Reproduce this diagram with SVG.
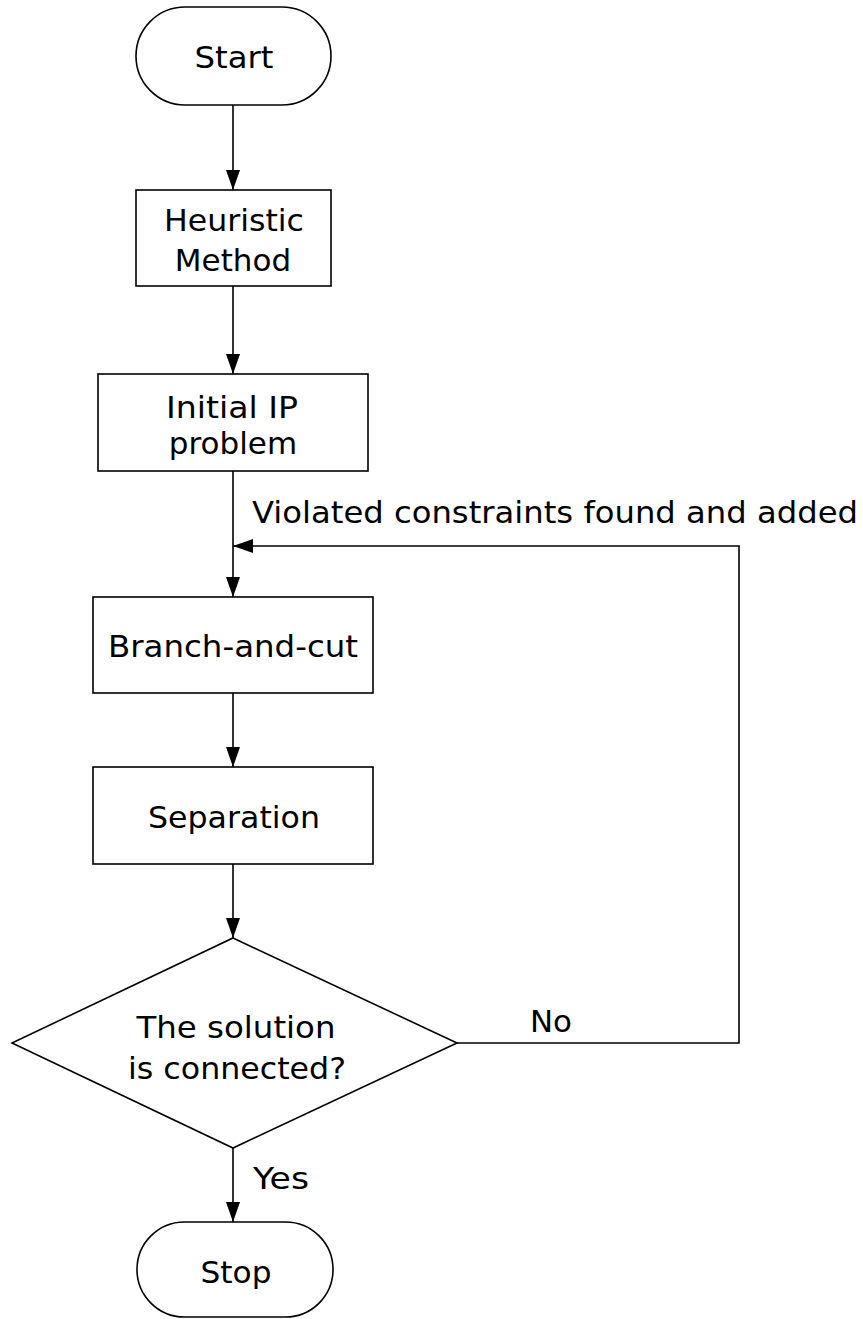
<svg xmlns="http://www.w3.org/2000/svg" width="863" height="1319" viewBox="0 0 863 1319">
  <style>
    .shape { fill: #ffffff; stroke: #000000; stroke-width: 1.6; }
    .edge { fill: none; stroke: #000000; stroke-width: 1.6; }
    .label { font-family: "DejaVu Sans", Verdana, sans-serif; font-size: 31px; fill: #000000; text-anchor: middle; }
    .note { font-family: "DejaVu Sans", Verdana, sans-serif; font-size: 31px; fill: #000000; }
  </style>
  <defs>
    <marker id="arrow" viewBox="0 0 20 14" refX="20" refY="7" markerWidth="20" markerHeight="14" markerUnits="userSpaceOnUse" orient="auto">
      <path d="M0,0 L20,7 L0,14 Z" fill="#000000"/>
    </marker>
  </defs>
  <rect width="863" height="1319" fill="#ffffff"/>

  <!-- connectors -->
  <g id="connectors">
    <line class="edge" x1="233" y1="105" x2="233" y2="190" marker-end="url(#arrow)"/>
    <line class="edge" x1="233" y1="286" x2="233" y2="374" marker-end="url(#arrow)"/>
    <line class="edge" x1="233" y1="471" x2="233" y2="597" marker-end="url(#arrow)"/>
    <line class="edge" x1="233" y1="693" x2="233" y2="767" marker-end="url(#arrow)"/>
    <line class="edge" x1="233" y1="864" x2="233" y2="938" marker-end="url(#arrow)"/>
    <line class="edge" x1="233" y1="1148" x2="233" y2="1222" marker-end="url(#arrow)"/>
    <polyline class="edge" points="457,1043 739,1043 739,546 233,546" marker-end="url(#arrow)"/>
    <text class="note" x="252" y="523" textLength="606" lengthAdjust="spacingAndGlyphs">Violated constraints found and added</text>
    <text class="note" x="530" y="1032" textLength="42" lengthAdjust="spacingAndGlyphs">No</text>
    <text class="note" x="253" y="1189" textLength="56" lengthAdjust="spacingAndGlyphs">Yes</text>
  </g>

  <g id="start">
    <rect class="shape" x="136" y="7" width="195" height="98" rx="49" ry="49"/>
    <text class="label" x="234" y="68" textLength="79" lengthAdjust="spacingAndGlyphs">Start</text>
  </g>

  <g id="heuristic">
    <rect class="shape" x="136" y="190" width="195" height="96"/>
    <text class="label" x="234" y="231" textLength="140" lengthAdjust="spacingAndGlyphs">Heuristic</text>
    <text class="label" x="233" y="271">Method</text>
  </g>

  <g id="initial-ip">
    <rect class="shape" x="98" y="374" width="270" height="97"/>
    <text class="label" x="232" y="418" textLength="132" lengthAdjust="spacingAndGlyphs">Initial IP</text>
    <text class="label" x="233" y="454">problem</text>
  </g>

  <g id="branch-and-cut">
    <rect class="shape" x="93" y="597" width="280" height="96"/>
    <text class="label" x="233" y="657" textLength="250" lengthAdjust="spacingAndGlyphs">Branch-and-cut</text>
  </g>

  <g id="separation">
    <rect class="shape" x="93" y="767" width="280" height="97"/>
    <text class="label" x="234" y="828" textLength="172" lengthAdjust="spacingAndGlyphs">Separation</text>
  </g>

  <g id="connected">
    <polygon class="shape" points="233,938 457,1043 233,1148 12,1043"/>
    <text class="label" x="236" y="1038" textLength="199" lengthAdjust="spacingAndGlyphs">The solution</text>
    <text class="label" x="237" y="1079" textLength="218" lengthAdjust="spacingAndGlyphs">is connected?</text>
  </g>

  <g id="stop">
    <rect class="shape" x="137" y="1222" width="196" height="95" rx="47.5" ry="47.5"/>
    <text class="label" x="236" y="1283" textLength="71" lengthAdjust="spacingAndGlyphs">Stop</text>
  </g>
</svg>
